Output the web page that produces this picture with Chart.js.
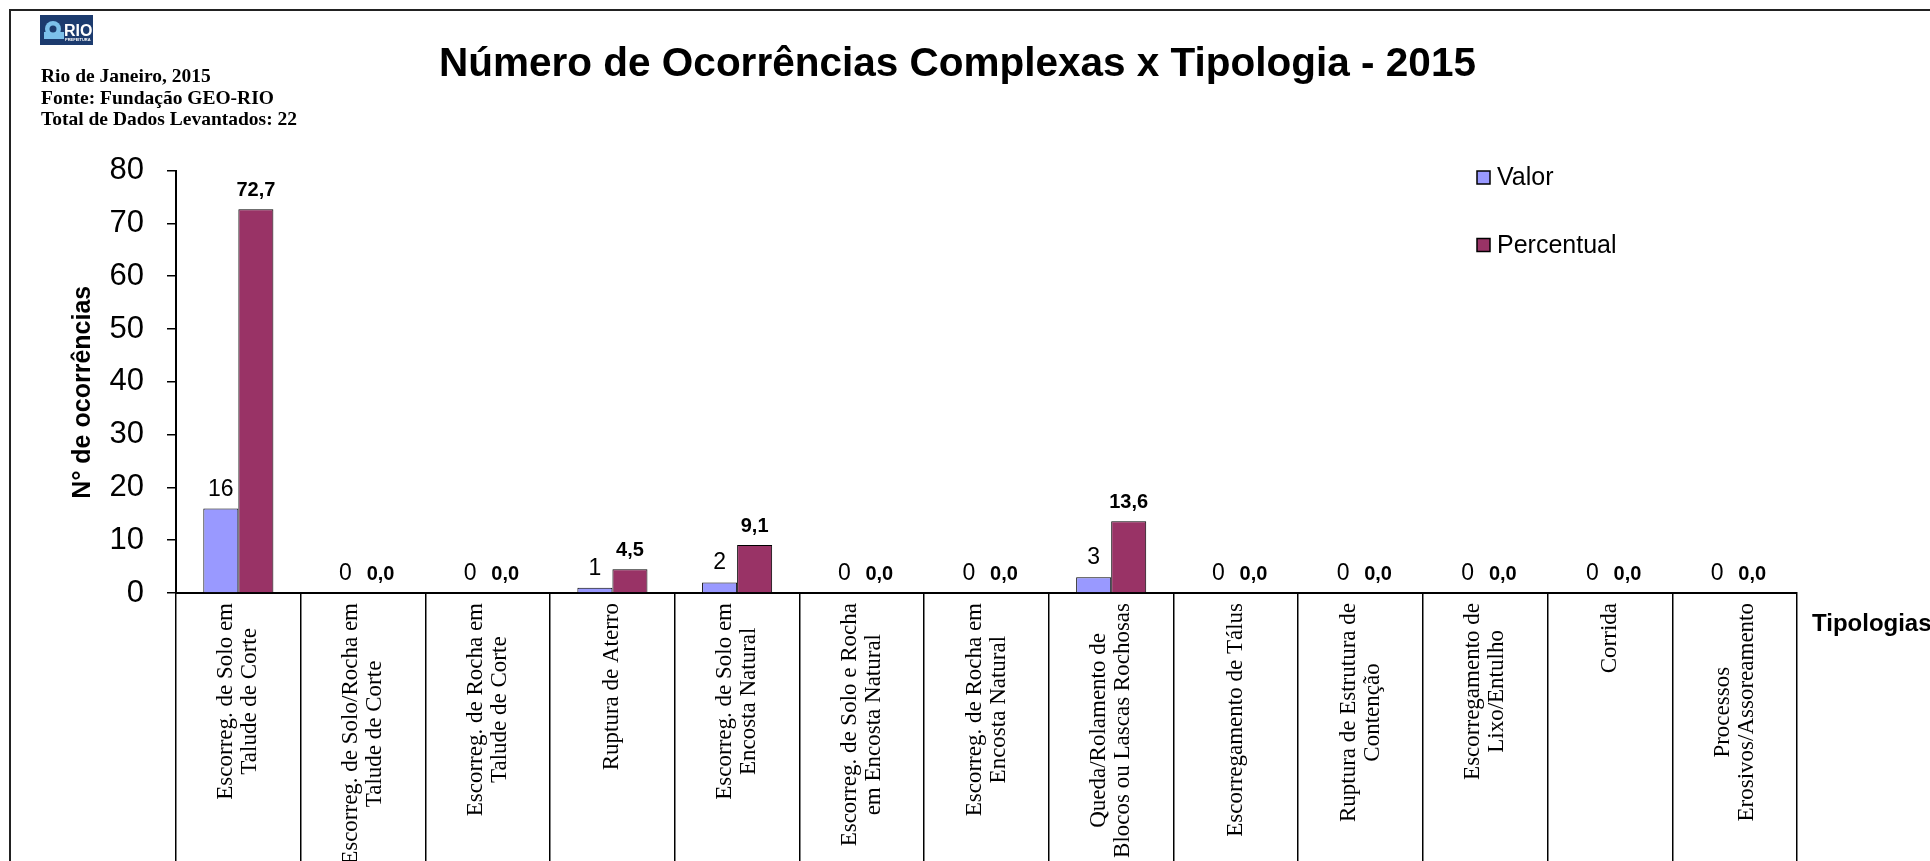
<!DOCTYPE html>
<html>
<head>
<meta charset="utf-8">
<title>Número de Ocorrências Complexas x Tipologia - 2015</title>
<script src="https://cdn.jsdelivr.net/npm/chart.js@4.4.1/dist/chart.umd.min.js"></script>
<style>
  html, body { margin: 0; padding: 0; background: #fff; overflow: hidden; }
  canvas { display: block; }
</style>
</head>
<body>
<canvas id="chart_content" width="1930" height="861"></canvas>
<script>
var categorias = [
  ["Escorreg. de Solo em", "Talude de Corte"],
  ["Escorreg. de Solo/Rocha em", "Talude de Corte"],
  ["Escorreg. de Rocha em", "Talude de Corte"],
  ["Ruptura de Aterro"],
  ["Escorreg. de Solo em", "Encosta Natural"],
  ["Escorreg. de Solo e Rocha", "em Encosta Natural"],
  ["Escorreg. de Rocha em", "Encosta Natural"],
  ["Queda/Rolamento de", "Blocos ou Lascas Rochosas"],
  ["Escorregamento de Tálus"],
  ["Ruptura de Estrutura de", "Contenção"],
  ["Escorregamento de", "Lixo/Entulho"],
  ["Corrida"],
  ["Processos", "Erosivos/Assoreamento"]
];
var valor = [16, 0, 0, 1, 2, 0, 0, 3, 0, 0, 0, 0, 0];
var percentual = [72.7, 0, 0, 4.5, 9.1, 0, 0, 13.6, 0, 0, 0, 0, 0];
var yTicks = [0, 10, 20, 30, 40, 50, 60, 70, 80];
var cabecalho = ["Rio de Janeiro, 2015", "Fonte: Fundação GEO-RIO", "Total de Dados Levantados: 22"];

var canvasElement = document.getElementById("chart_content");

function fmtPct(v) {
  return v.toFixed(1).replace(".", ",");
}

var decor = {
  id: "decor",
  beforeDraw: function (chart) {
    var ctx = chart.ctx;
    ctx.save();
    ctx.fillStyle = "#fff";
    ctx.fillRect(0, 0, chart.width, chart.height);
    ctx.strokeStyle = "#222";
    ctx.lineWidth = 2;
    ctx.strokeRect(10, 10, 3000, 3000);

    // logo
    ctx.fillStyle = "#1c3b6e";
    ctx.fillRect(40, 15, 53, 30);
    ctx.fillStyle = "#7cc0ea";
    ctx.beginPath();
    ctx.arc(53, 29, 8, 0, Math.PI * 2);
    ctx.fill();
    ctx.fillRect(44, 32, 20, 7);
    ctx.fillStyle = "#1c3b6e";
    ctx.beginPath();
    ctx.arc(53, 29, 3.5, 0, Math.PI * 2);
    ctx.fill();
    ctx.fillStyle = "#fff";
    ctx.font = "bold 16px 'Liberation Sans'";
    ctx.textBaseline = "alphabetic";
    ctx.fillText("RIO", 64, 36);
    ctx.font = "bold 4px 'Liberation Sans'";
    ctx.fillText("PREFEITURA", 65, 41);

    ctx.fillStyle = "#000";
    ctx.font = "bold 19.5px 'Liberation Serif'";
    cabecalho.forEach(function (t, i) {
      ctx.fillText(t, 41, 82 + i * 21.5);
    });
    ctx.restore();
  },
  afterDatasetsDraw: function (chart) {
    var ctx = chart.ctx;
    ctx.save();
    ctx.fillStyle = "#000";
    ctx.textAlign = "center";
    ctx.textBaseline = "alphabetic";
    ctx.font = "23px 'Liberation Sans'";
    chart.getDatasetMeta(0).data.forEach(function (bar, i) {
      ctx.fillText(String(valor[i]), bar.x, bar.y - 13);
    });
    ctx.font = "bold 20px 'Liberation Sans'";
    chart.getDatasetMeta(1).data.forEach(function (bar, i) {
      ctx.fillText(fmtPct(percentual[i]), bar.x, bar.y - 13);
    });
    ctx.restore();
  },
  afterDraw: function (chart) {
    var ctx = chart.ctx;
    var xs = chart.scales.x;
    ctx.save();
    ctx.fillStyle = "#000";

    // rotated category labels, lines centred on each other
    ctx.font = "23px 'Liberation Serif'";
    chart.data.labels.forEach(function (lines, i) {
      var px = xs.getPixelForTick(i);
      var w = 0;
      lines.forEach(function (s) { w = Math.max(w, ctx.measureText(s).width); });
      ctx.save();
      ctx.translate(px, xs.top + 10);
      ctx.rotate(-Math.PI / 2);
      ctx.textAlign = "center";
      ctx.textBaseline = "middle";
      lines.forEach(function (s, j) {
        ctx.fillText(s, -w / 2, (j - (lines.length - 1) / 2) * 24);
      });
      ctx.restore();
    });

    ctx.textAlign = "left";
    ctx.textBaseline = "alphabetic";
    ctx.font = "bold 24px 'Liberation Sans'";
    ctx.fillText("Tipologias", 1812, 631);

    // legend
    var items = chart.data.datasets;
    ctx.font = "25px 'Liberation Sans'";
    ctx.textBaseline = "middle";
    ctx.lineWidth = 1.5;
    ctx.strokeStyle = "#000";
    items.forEach(function (ds, i) {
      var cy = 177.5 + i * 67.5;
      ctx.fillStyle = ds.backgroundColor;
      ctx.fillRect(1477, cy - 6.5, 13, 13);
      ctx.strokeRect(1477, cy - 6.5, 13, 13);
      ctx.fillStyle = "#000";
      ctx.fillText(ds.label, 1497, cy + 1);
    });
    ctx.restore();
  }
};

Chart.defaults.font.family = "'Liberation Sans', Arial, sans-serif";
Chart.defaults.color = "#000";

var config = {
  type: "bar",
  data: {
    labels: categorias,
    datasets: [
      {
        label: "Valor",
        data: valor,
        backgroundColor: "#9999ff",
        borderColor: "#000",
        borderWidth: 1
      },
      {
        label: "Percentual",
        data: percentual,
        backgroundColor: "#993366",
        borderColor: "#000",
        borderWidth: 1
      }
    ]
  },
  options: {
    responsive: false,
    animation: false,
    devicePixelRatio: 1,
    layout: { padding: { left: 0, right: 15, top: 0, bottom: 0 } },
    datasets: {
      bar: { categoryPercentage: 0.562, barPercentage: 1 }
    },
    plugins: {
      legend: { display: false },
      tooltip: { enabled: false },
      title: {
        display: true,
        text: "Número de Ocorrências Complexas x Tipologia - 2015",
        color: "#000",
        font: { size: 40.5, weight: "bold" },
        padding: { top: 41, bottom: 81 }
      }
    },
    scales: {
      x: {
        ticks: { display: false },
        grid: {
          offset: true,
          drawOnChartArea: false,
          drawTicks: true,
          tickLength: 268,
          color: "#000",
          lineWidth: 1.5
        },
        border: { display: true, color: "#000", width: 2 },
        afterFit: function (s) { s.height = 268; }
      },
      y: {
        min: 0,
        max: 80,
        afterBuildTicks: function (s) {
          s.ticks = yTicks.map(function (v) { return { value: v }; });
        },
        ticks: { font: { size: 31 }, color: "#000", padding: 23 },
        grid: {
          drawOnChartArea: false,
          drawTicks: true,
          tickLength: 9,
          color: "#000",
          lineWidth: 1.5
        },
        border: { display: true, color: "#000", width: 2 },
        title: {
          display: true,
          text: "N° de ocorrências   ",
          color: "#000",
          font: { size: 25, weight: "bold" },
          padding: { top: 68, bottom: 0 }
        },
        afterFit: function (s) { s.width = 176; }
      },
      y2: {
        position: "right",
        display: true,
        ticks: { display: false },
        grid: { display: false },
        border: { display: false },
        afterFit: function (s) { s.width = 118; }
      }
    }
  },
  plugins: [decor]
};

var content_chart = new Chart(canvasElement, config);
</script>
</body>
</html>
